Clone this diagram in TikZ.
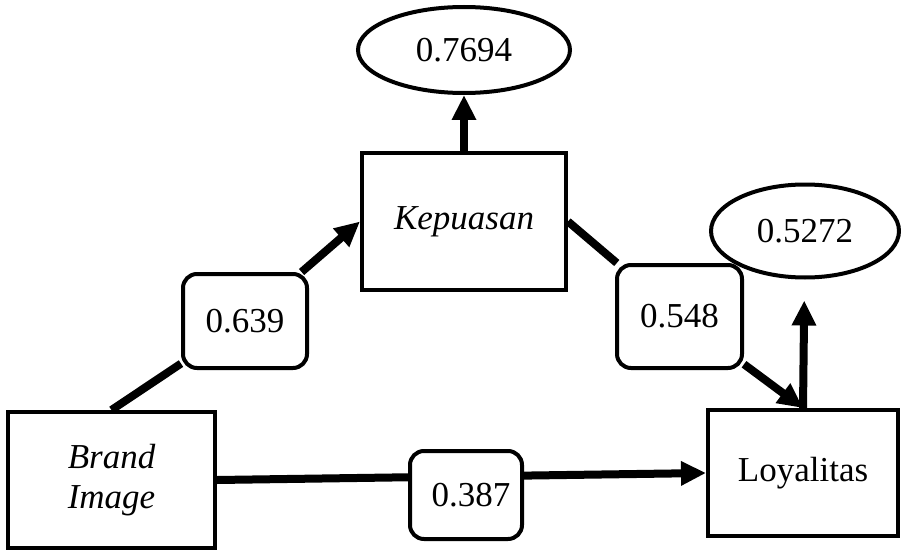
\documentclass[tikz,border=0pt]{standalone}
\usepackage{fontspec}
\setmainfont{Liberation Serif}
\usetikzlibrary{arrows.meta,shapes.geometric}

\begin{document}
\begin{tikzpicture}[x=1pt,y=1pt,-,>={Triangle[length=25pt,width=23pt]},
  line width=8pt,
  var node/.style={rectangle,draw,line width=4pt,fill=white,inner sep=0pt,font=\fontsize{35}{42}\selectfont},
  coef node/.style={rectangle,rounded corners=14pt,draw,line width=4pt,fill=white,inner sep=0pt,font=\fontsize{35}{42}\selectfont},
  err node/.style={ellipse,draw,line width=4pt,fill=white,inner sep=0pt,font=\fontsize{35}{42}\selectfont}]
  \useasboundingbox (0,0) rectangle (901,550);
  \node[var node,minimum width=207pt,minimum height=136pt,align=center,font=\fontsize{35}{40}\selectfont\itshape] (bi) at (111.5,70) {Brand\\Image};
  \node[var node,minimum width=204pt,minimum height=137pt,font=\fontsize{35}{42}\selectfont\itshape] (kep) at (464,328.5) {Kepuasan};
  \node[var node,minimum width=190pt,minimum height=126pt] (loy) at (803,77) {Loyalitas};
  \node[err node,minimum width=212pt,minimum height=86pt] (e7694) at (464,500) {0.7694};
  \node[err node,minimum width=188pt,minimum height=93pt] (e5272) at (805,319) {0.5272};
  \node[coef node,minimum width=124pt,minimum height=94pt] (c639) at (245,229) {0.639};
  \node[coef node,minimum width=125pt,minimum height=103pt] (c548) at (679.5,233.5) {0.548};

  \path
    (bi.north) edge (c639)
    (c639) edge[->] (kep.west)
    (kep.east) edge (c548)
    (c548) edge[->] (loy.north)
    (kep.north) edge[->] (e7694)
    (loy.north) edge[->,shorten >=21pt] (e5272)
    (bi.east) edge[->] (loy.west);

  \node[coef node,minimum width=112pt,minimum height=88pt] (c387) at (466,55) {\hspace*{10pt}0.387};
\end{tikzpicture}
\end{document}
